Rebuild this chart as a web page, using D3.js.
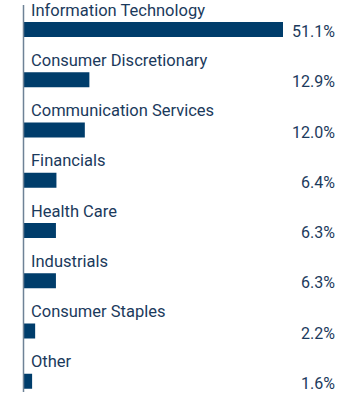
<!DOCTYPE html>
<html><head><meta charset="utf-8">
<script src="https://cdn.jsdelivr.net/npm/d3@7"></script>
<style>html,body{margin:0;padding:0;background:#fff;}</style>
</head><body>
<svg id="c" width="360" height="396"></svg>
<script>
const categories = ["Information Technology","Consumer Discretionary","Communication Services","Financials","Health Care","Industrials","Consumer Staples","Other"];
const values = [51.1, 12.9, 12.0, 6.4, 6.3, 6.3, 2.2, 1.6];
const valueLabels = ["51.1%","12.9%","12.0%","6.4%","6.3%","6.3%","2.2%","1.6%"];

const svg = d3.select("#c");
const x = d3.scaleLinear().domain([0, 51.1]).range([24, 283]);
const y = d3.scaleBand().domain(categories).range([22, 22 + 8 * 50.25]).paddingInner(0).paddingOuter(0);
const barH = 15;
const data = categories.map((c, i) => ({c, v: values[i], l: valueLabels[i]}));

svg.selectAll("rect.bar").data(data).join("rect")
  .attr("class","bar")
  .attr("x", x(0))
  .attr("y", d => y(d.c))
  .attr("width", d => x(d.v) - x(0))
  .attr("height", barH)
  .attr("fill", "#003d6b");

svg.selectAll("text.cat").data(data).join("text")
  .attr("class","cat")
  .attr("x", 31)
  .attr("y", d => y(d.c) - 6.5)
  .attr("font-family", "Roboto, sans-serif")
  .attr("font-size", 16.5)
  .attr("fill", "#1b3a5c")
  .text(d => d.c);

svg.selectAll("text.val").data(data).join("text")
  .attr("class","val")
  .attr("x", 335)
  .attr("y", d => y(d.c) + barH)
  .attr("text-anchor", "end")
  .attr("font-family", "Roboto, sans-serif")
  .attr("font-size", 16)
  .attr("fill", "#1b3a5c")
  .text(d => d.l);

svg.append("line")
  .attr("x1", 23.5).attr("x2", 23.5)
  .attr("y1", 5).attr("y2", 392)
  .attr("stroke", "#6e8296")
  .attr("stroke-width", 1.5);
</script>
</body></html>
